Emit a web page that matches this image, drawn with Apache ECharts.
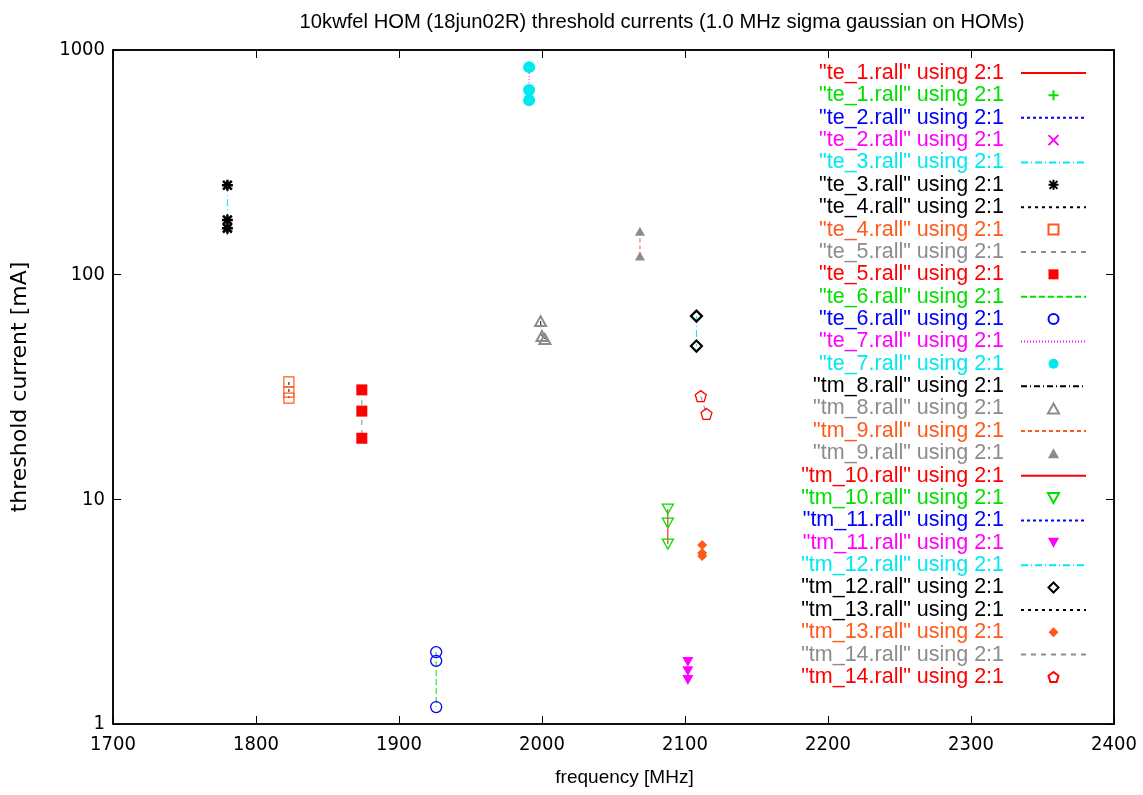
<!DOCTYPE html>
<html>
<head>
<meta charset="utf-8">
<script src="https://cdn.jsdelivr.net/npm/echarts@6/dist/echarts.min.js"></script>
<style>
html,body{margin:0;padding:0;background:#fff;}
#chart{width:1143px;height:795px;}
</style>
</head>
<body>
<div id="chart"></div>
<script>
// ---- data (frequency [MHz], threshold current [mA]) ----
const xTicks = [1700, 1800, 1900, 2000, 2100, 2200, 2300, 2400];
const yTicks = [1, 10, 100, 1000];

const te1 = [[1780, 160], [1780, 158]];
const te2 = [[1780, 163]];
const te3 = [[1780, 250], [1780, 175], [1780, 161]];
const te4 = [[1823, 33.3], [1823, 30.0], [1823, 28.2]];
const te5 = [[1874, 30.7], [1874, 24.7], [1874, 18.7]];
const te6 = [[1926, 2.09], [1926, 1.91], [1926, 1.19]];
const te7 = [[1991, 839], [1991, 663], [1991, 598]];
const tm8 = [[1999, 62.1], [2000, 53.3], [2002, 51.7]];
const tm9 = [[2068.5, 156], [2068.5, 121]];
const tm10 = [[2088, 9.05], [2088, 7.84], [2088, 6.32]];
const tm11 = [[2102, 1.89], [2102, 1.72], [2102, 1.57]];
const tm12 = [[2108, 65.4], [2108, 48.1]];
const tm13 = [[2112, 6.26], [2112, 5.77], [2112, 5.59]];
const tm14 = [[2111, 28.8], [2115, 24.0]];

const files = ['te_1', 'te_2', 'te_3', 'te_4', 'te_5', 'te_6', 'te_7',
               'tm_8', 'tm_9', 'tm_10', 'tm_11', 'tm_12', 'tm_13', 'tm_14'];
const fileData = [te1, te2, te3, te4, te5, te6, te7, tm8, tm9, tm10, tm11, tm12, tm13, tm14];

// ---- styles ----
const RED = '#ff0000', GREEN = '#00e000', BLUE = '#0000ff', MAG = '#ff00ff',
      CYAN = '#00e8f0', BLACK = '#000000', ORANGE = '#ff5a1a', GREY = '#8c8c8c';

const lineStyles = [
  {c: RED, t: 'solid'},
  {c: BLUE, t: [3, 3]},
  {c: CYAN, t: [7, 3, 1, 3]},
  {c: BLACK, t: [3, 4]},
  {c: GREY, t: [5, 5]},
  {c: GREEN, t: [6, 3]},
  {c: MAG, t: [1, 2]},
  {c: BLACK, t: [6, 3, 1, 3]},
  {c: ORANGE, t: [4, 3]},
  {c: RED, t: 'solid'},
  {c: BLUE, t: [3, 3]},
  {c: CYAN, t: [7, 3, 1, 3]},
  {c: BLACK, t: [3, 4]},
  {c: GREY, t: [5, 5]}
];

const P_PLUS = 'path://M0,5L10,5M5,0L5,10';
const P_X = 'path://M0,0L10,10M10,0L0,10';
const P_STAR = 'path://M0,5L10,5M5,0L5,10M1,1L9,9M9,1L1,9';
const P_PENT = 'path://M5,0L10,3.8L8.1,10L1.9,10L0,3.8Z';
const P_SQ = 'path://M0,0L10,0L10,10L0,10Z';
const P_TRI = 'path://M5,0L10,9L0,9Z';
const P_DTRI = 'path://M0,0L10,0L5,9Z';
const P_DIA = 'path://M5,0L10,5L5,10L0,5Z';

const pointStyles = [
  {c: GREEN, s: P_PLUS, size: 10, fill: false, w: 1},
  {c: MAG, s: P_X, size: 9, fill: false, w: 1},
  {c: BLACK, s: P_STAR, size: 11, fill: false, w: 2.5},
  {c: ORANGE, s: P_SQ, size: 10, fill: false, w: 1.2},
  {c: RED, s: P_SQ, size: 11, fill: true},
  {c: BLUE, s: 'circle', size: 11, fill: false, w: 1.3},
  {c: CYAN, s: 'circle', size: 12, fill: true},
  {c: GREY, s: P_TRI, size: 11, fill: false, w: 2},
  {c: GREY, s: P_TRI, size: 10, fill: true},
  {c: GREEN, s: P_DTRI, size: 11, fill: false, w: 1.3},
  {c: MAG, s: P_DTRI, size: 11, fill: true},
  {c: BLACK, s: P_DIA, size: 11, fill: false, w: 2.2},
  {c: ORANGE, s: P_DIA, size: 10, fill: true},
  {c: RED, s: P_PENT, size: 11, fill: false, w: 1.3}
];

const series = [];
const legendData = [];
files.forEach(function (f, i) {
  const base = '"' + f + '.rall" using 2:1';
  const ls = lineStyles[i];
  const ps = pointStyles[i];
  const lineName = base;
  const ptName = base + '\u200b';
  series.push({
    name: lineName, type: 'line', data: fileData[i],
    symbol: 'none', showSymbol: false, animation: false, z: 2,
    lineStyle: {color: ls.c, width: 1, type: ls.t},
    itemStyle: {color: ls.c}
  });
  series.push({
    name: ptName, type: 'scatter', data: fileData[i],
    symbol: ps.s, symbolSize: ps.size, symbolKeepAspect: true, animation: false, z: 3,
    itemStyle: ps.fill ? {color: ps.c, borderWidth: 0, opacity: 1}
                       : {color: 'rgba(0,0,0,0)', borderColor: ps.c, borderWidth: ps.w, opacity: 1}
  });
  legendData.push({name: lineName, textStyle: {color: ls.c},
    itemStyle: {opacity: 0}});
  legendData.push({name: ptName, textStyle: {color: ps.c}});
});

const FONT = 'Liberation Sans';
const NARROW = '"DejaVu Sans Condensed", "Liberation Sans Narrow", sans-serif';
const chart = echarts.init(document.getElementById('chart'), null, {renderer: 'canvas'});
chart.setOption({
  backgroundColor: '#ffffff',
  animation: false,
  title: {
    text: '10kwfel HOM (18jun02R) threshold currents (1.0 MHz sigma gaussian on HOMs)',
    left: 657, top: 7, textAlign: 'center',
    textStyle: {fontFamily: FONT, fontSize: 20.2, fontWeight: 'normal', color: '#000'}
  },
  grid: {left: 113, right: 29, top: 50, bottom: 71, show: true,
         borderColor: '#000', borderWidth: 1.5, backgroundColor: 'transparent'},
  legend: {
    orient: 'vertical', right: 56, top: 62, align: 'right',
    itemWidth: 65, itemHeight: 10, itemGap: 0.37, padding: 0,
    selectedMode: false, symbolKeepAspect: true,
    formatter: function (name) { return name.replace('\u200b', '') + '  '; },
    textStyle: {fontFamily: FONT, fontSize: 21.5, lineHeight: 22},
    data: legendData
  },
  xAxis: [{
    type: 'value', min: 1700, max: 2400, interval: 100,
    name: 'frequency [MHz]', nameLocation: 'middle', nameGap: 44,
    nameTextStyle: {fontFamily: FONT, fontSize: 19, color: '#000', padding: [0, 0, 0, 22]},
    axisLine: {show: true, lineStyle: {color: '#000', width: 1.5}},
    axisTick: {show: true, inside: true, length: 8, lineStyle: {color: '#000'}},
    axisLabel: {fontFamily: NARROW, fontSize: 20, color: '#000', margin: 11,
      formatter: function (v) { return String(v); }},
    splitLine: {show: false}
  }, {
    type: 'value', min: 1700, max: 2400, interval: 100, position: 'top',
    axisLine: {show: true, lineStyle: {color: '#000', width: 1.5}},
    axisTick: {show: true, inside: true, length: 8, lineStyle: {color: '#000'}},
    axisLabel: {show: false}, splitLine: {show: false}
  }],
  yAxis: [{
    type: 'log', logBase: 10, min: 1, max: 1000,
    name: 'threshold current [mA]', nameLocation: 'middle', nameGap: 82, nameRotate: 90,
    nameTextStyle: {fontFamily: 'DejaVu Sans', fontSize: 22, color: '#000'},
    axisLine: {show: true, lineStyle: {color: '#000', width: 1.5}},
    axisTick: {show: true, inside: true, length: 8, lineStyle: {color: '#000'}},
    axisLabel: {fontFamily: NARROW, fontSize: 20, color: '#000', margin: 8,
      formatter: function (v) { return yTicks.indexOf(Math.round(v)) >= 0 ? String(Math.round(v)) : ''; }},
    splitLine: {show: false}
  }, {
    type: 'log', logBase: 10, min: 1, max: 1000, position: 'right',
    axisLine: {show: true, lineStyle: {color: '#000', width: 1.5}},
    axisTick: {show: true, inside: true, length: 8, lineStyle: {color: '#000'}},
    axisLabel: {show: false}, splitLine: {show: false}
  }],
  series: series
});
</script>
</body>
</html>
